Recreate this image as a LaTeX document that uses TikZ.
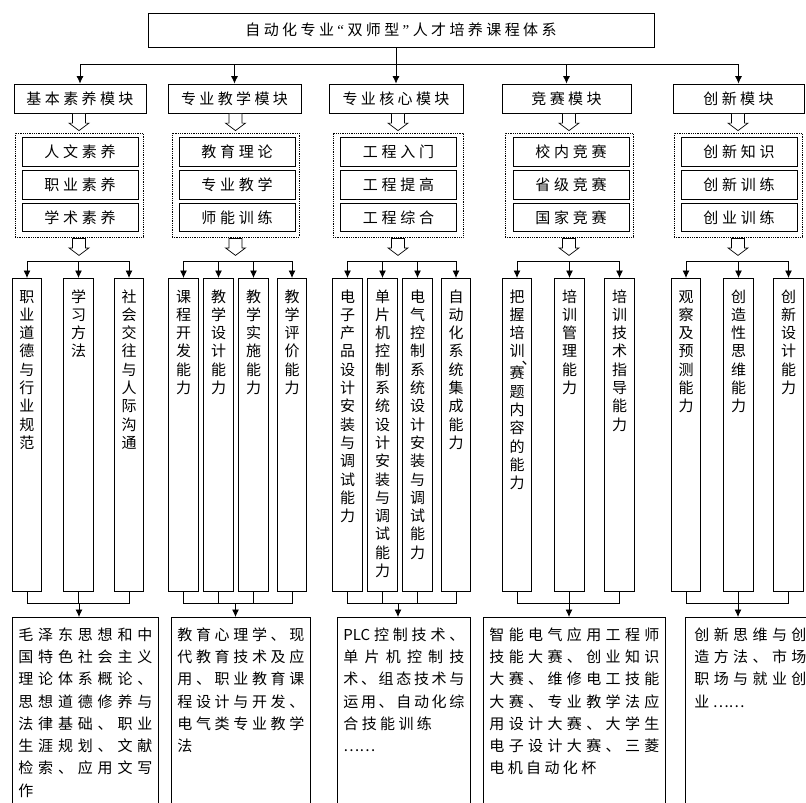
\documentclass[tikz,border=0pt]{standalone}
\usepackage{fontspec}
\setmainfont{Noto Sans CJK SC}
\newfontfamily\qf{Liberation Serif}
\usetikzlibrary{arrows.meta}
\makeatletter
\newdimen\chsp \chsp=3.4pt
\def\oq{{\qf “}}
\def\cq{{\qf ”}}
\def\sp@first#1{#1\sp@rest}
\def\sp@rest#1{\ifx\relax#1\else\kern\chsp#1\expandafter\sp@rest\fi}
\newcommand\spc[1]{\sp@first#1\relax}
\def\jl@first#1{#1\jl@rest}
\def\jl@rest#1{\ifx\relax#1\else\hfil#1\expandafter\jl@rest\fi}
\newcommand\jline[2]{\hbox to #1{\jl@first#2\relax}}
\def\vdun{VDUN}
\def\vt@dun{\kern-10.4pt\hbox to 15pt{\kern12pt\rlap{、}\hss}\kern-4.3pt}
\def\vt@rest#1{\ifx\relax#1\else\ifx\vdun#1\vt@dun\else\hbox to 15pt{\hss#1\hss}\fi\expandafter\vt@rest\fi}
\newcommand\vtext[1]{\vbox to 313pt{\baselineskip=18.3pt\lineskiplimit=-30pt\kern5.3pt\prevdepth=0pt\vt@rest#1\relax\vss}}
\newcommand\btext[1]{\vbox to 200pt{\baselineskip=22.3pt\lineskiplimit=-30pt\kern0.4pt\prevdepth=0pt #1\vss}}
\newcommand\sline[1]{\hbox{\spc{#1}}}
\makeatother
\begin{document}
\begin{tikzpicture}[x=1pt,y=-1pt,line width=0.8pt,
  font=\fontsize{15pt}{18pt}\selectfont,
  box/.style={draw,fill=white,inner sep=0pt},
  arr/.style={-{Latex[length=7.5pt,width=7pt]}},
  modbox/.style={box,minimum width=#1,minimum height=29pt},
  grp/.style={draw,densely dotted,inner sep=0pt,minimum width=#1,minimum height=104pt},
  subbox/.style={box,minimum width=116pt,minimum height=28.5pt},
  colbox/.style={box,anchor=north,minimum width=29.5pt,minimum height=313pt},
  botbox/.style={box,anchor=north west,inner xsep=6pt,inner ysep=0pt},
  holarr/.pic={\draw[fill=white,line width=0.7pt] (-6.5,0) -- (6.5,0) -- (6.5,9.5) -- (10,9.5) -- (0,17) -- (-10,9.5) -- (-6.5,9.5) -- cycle;}]
\useasboundingbox (0,0) rectangle (806,803);
\clip (0,0) rectangle (806,803);
\coordinate (ybus) at (0,64);
\coordinate (ymid) at (0,261);
\coordinate (ylow) at (0,603);
% title
\node[box,minimum width=506pt,minimum height=34pt] (title) at (401,30) {\spc{自动化专业\oq 双师型\cq 人才培养课程体系}};
% modules
\node[modbox=132pt] (m1) at (80,98.5) {\spc{基本素养模块}};
\node[modbox=133pt] (m2) at (234.5,98.5) {\spc{专业教学模块}};
\node[modbox=134pt] (m3) at (396,98.5) {\spc{专业核心模块}};
\node[modbox=129pt] (m4) at (566.5,98.5) {\spc{竞赛模块}};
\node[modbox=131pt] (m5) at (738.5,98.5) {\spc{创新模块}};
\draw (m1.north |- ybus) -- (m5.north |- ybus);
\draw[arr] (title.south -| m3.north) -- (m3.north);
\foreach \m in {m1,m2,m4,m5} \draw[arr] (\m.north |- ybus) -- (\m.north);
% groups
\node[grp=128pt] (g1) at (79,185) {};
\node[grp=127pt] (g2) at (235.5,185) {};
\node[grp=130pt] (g3) at (398,185) {};
\node[grp=128pt] (g4) at (569,185) {};
\node[grp=128pt] (g5) at (738,185) {};
\foreach \g in {g1,g2,g3,g4,g5} {
  \pic at ([yshift=19pt]\g.north) {holarr};
  \pic at ([yshift=-1pt]\g.south) {holarr};
}
\node[subbox] (s11) at (80,152) {{\chsp=3.8pt\spc{人文素养}}};
\node[subbox] (s12) at (80,185) {{\chsp=3.8pt\spc{职业素养}}};
\node[subbox] (s13) at (80,217.5) {{\chsp=3.8pt\spc{学术素养}}};
\node[subbox] (s21) at (237,152) {{\chsp=3.8pt\spc{教育理论}}};
\node[subbox] (s22) at (237,185) {{\chsp=3.8pt\spc{专业教学}}};
\node[subbox] (s23) at (237,217.5) {{\chsp=3.8pt\spc{师能训练}}};
\node[subbox] (s31) at (398.5,152) {{\chsp=3.8pt\spc{工程入门}}};
\node[subbox] (s32) at (398.5,185) {{\chsp=3.8pt\spc{工程提高}}};
\node[subbox] (s33) at (398.5,217.5) {{\chsp=3.8pt\spc{工程综合}}};
\node[subbox] (s41) at (571,152) {{\chsp=3.8pt\spc{校内竞赛}}};
\node[subbox] (s42) at (571,185) {{\chsp=3.8pt\spc{省级竞赛}}};
\node[subbox] (s43) at (571,217.5) {{\chsp=3.8pt\spc{国家竞赛}}};
\node[subbox] (s51) at (739,152) {{\chsp=3.8pt\spc{创新知识}}};
\node[subbox] (s52) at (739,185) {{\chsp=3.8pt\spc{创新训练}}};
\node[subbox] (s53) at (739,217.5) {{\chsp=3.8pt\spc{创业训练}}};
% columns
\node[colbox] (c11) at (27,278) {\vtext{职业道德与行业规范}};
\node[colbox] (c12) at (78.5,278) {\vtext{学习方法}};
\node[colbox] (c13) at (129,278) {\vtext{社会交往与人际沟通}};
\node[colbox] (c21) at (183.5,278) {\vtext{课程开发能力}};
\node[colbox] (c22) at (218.5,278) {\vtext{教学设计能力}};
\node[colbox] (c23) at (253.5,278) {\vtext{教学实施能力}};
\node[colbox] (c24) at (292,278) {\vtext{教学评价能力}};
\node[colbox] (c31) at (347.5,278) {\vtext{电子产品设计安装与调试能力}};
\node[colbox] (c32) at (382.5,278) {\vtext{单片机控制系统设计安装与调试能力}};
\node[colbox] (c33) at (417.5,278) {\vtext{电气控制系统设计安装与调试能力}};
\node[colbox] (c34) at (456,278) {\vtext{自动化系统集成能力}};
\node[colbox] (c41) at (517,278) {\vtext{把握培训\vdun 赛题内容的能力}};
\node[colbox] (c42) at (569.5,278) {\vtext{培训管理能力}};
\node[colbox] (c43) at (619.5,278) {\vtext{培训技术指导能力}};
\node[colbox] (c51) at (686,278) {\vtext{观察及预测能力}};
\node[colbox] (c52) at (738.5,278) {\vtext{创造性思维能力}};
\node[colbox] (c53) at (788.5,278) {\vtext{创新设计能力}};
% column top connectors
\draw (c11.north |- ymid) -- (c13.north |- ymid);
\draw (c21.north |- ymid) -- (c24.north |- ymid);
\draw (c31.north |- ymid) -- (c34.north |- ymid);
\draw (c41.north |- ymid) -- (c43.north |- ymid);
\draw (c51.north |- ymid) -- (c53.north |- ymid);
\foreach \c in {c11,c12,c13,c21,c22,c23,c24,c31,c32,c33,c34,c41,c42,c43,c51,c52,c53}
  \draw[arr] (\c.north |- ymid) -- (\c.north);
% bottom boxes
\node[botbox] (b1) at (12,617) {\btext{%
  \jline{134pt}{毛泽东思想和中}
  \jline{134pt}{国特色社会主义}
  \jline{134pt}{理论体系概论、}
  \jline{134pt}{思想道德修养与}
  \jline{134pt}{法律基础、职业}
  \jline{134pt}{生涯规划、文献}
  \jline{134pt}{检索、应用文写}
  \sline{作}}};
\node[botbox] (b2) at (171,617) {\btext{%
  \jline{127pt}{教育心理学、现}
  \jline{127pt}{代教育技术及应}
  \jline{127pt}{用、职业教育课}
  \jline{127pt}{程设计与开发、}
  \jline{127pt}{电气类专业教学}
  \sline{法}}};
\node[botbox] (b3) at (337,617) {\btext{%
  \jline{121pt}{{PLC}控制技术、}
  \jline{121pt}{单片机控制技}
  \jline{121pt}{术、组态技术与}
  \jline{121pt}{运用、自动化综}
  \sline{合技能训练}
  \sline{{……}}}};
\node[botbox] (b4) at (483,617) {\btext{%
  \jline{170pt}{智能电气应用工程师}
  \jline{170pt}{技能大赛、创业知识}
  \jline{170pt}{大赛、维修电工技能}
  \jline{170pt}{大赛、专业教学法应}
  \jline{170pt}{用设计大赛、大学生}
  \jline{170pt}{电子设计大赛、三菱}
  \sline{电机自动化杯}}};
\node[botbox,inner xsep=9pt] (b5) at (685,617) {\btext{%
  \jline{112pt}{创新思维与创}
  \jline{112pt}{造方法、市场}
  \jline{112pt}{职场与就业创}
  \sline{业{……}}}};
% column bottom connectors
\draw (c11.south) |- (c13.south |- ylow) -- (c13.south);
\draw (c12.south) -- (c12.south |- ylow);
\draw (c21.south) |- (c24.south |- ylow) -- (c24.south);
\draw (c22.south) -- (c22.south |- ylow);
\draw (c23.south) -- (c23.south |- ylow);
\draw (c31.south) |- (c34.south |- ylow) -- (c34.south);
\draw (c32.south) -- (c32.south |- ylow);
\draw (c33.south) -- (c33.south |- ylow);
\draw (c41.south) |- (c43.south |- ylow) -- (c43.south);
\draw (c42.south) -- (c42.south |- ylow);
\draw (c51.south) |- (c53.south |- ylow) -- (c53.south);
\draw (c52.south) -- (c52.south |- ylow);
\draw[arr] (g1.south |- ylow) -- (g1.south |- b1.north);
\draw[arr] (g2.south |- ylow) -- (g2.south |- b2.north);
\draw[arr] (g3.south |- ylow) -- (g3.south |- b3.north);
\draw[arr] (g4.south |- ylow) -- (g4.south |- b4.north);
\draw[arr] (g5.south |- ylow) -- (g5.south |- b5.north);
\end{tikzpicture}
\end{document}
